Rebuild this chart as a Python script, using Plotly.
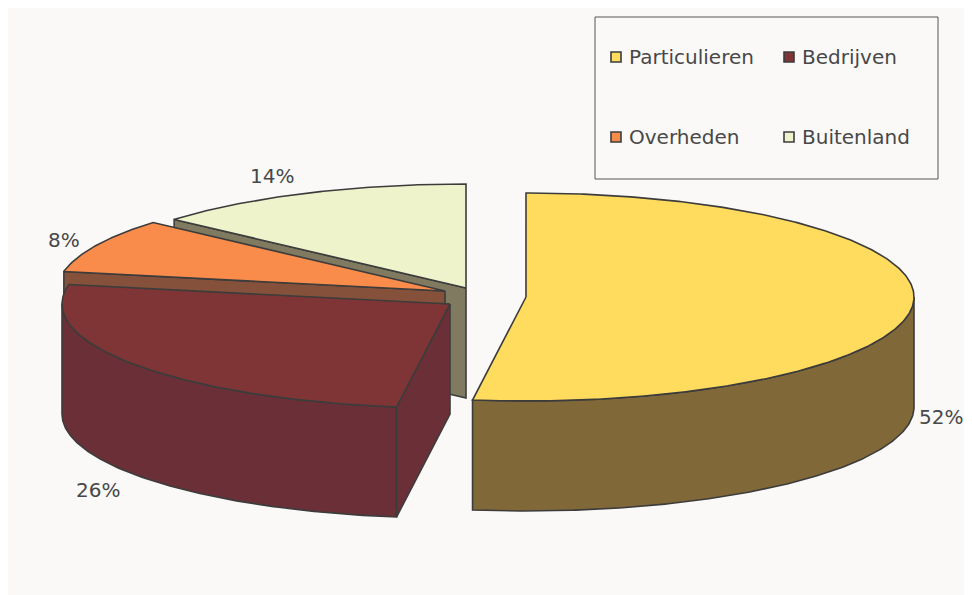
import numpy as np
import plotly.graph_objects as go

categories = ["Particulieren", "Bedrijven", "Overheden", "Buitenland"]
shares = [52.2, 25.8, 8.45, 13.55]
pct_labels = ["52%", "26%", "8%", "14%"]
top_colors = ["#FFDB5E", "#7F3535", "#F98B4B", "#EEF3CC"]
wall_colors = ["#806839", "#6B3037", "#85513A", "#7F7A60"]

LINE = "#3C3C3C"
FONT = dict(family="DejaVu Sans, Verdana, sans-serif", color="#484848", size=20)
RX, RY, DEPTH = 388, 104, 110
# pie centres after the explode offset, in window pixels
centers = [(526, 297), (450, 304), (445, 291), (466, 288)]
label_pos = [(941, 417), (98, 490), (64, 240), (272, 176)]
legend_pos = [(616, 57), (789, 57), (616, 137), (789, 137)]

edges = np.cumsum([0] + shares) / 100 * 360


def arc(c, a0, a1):
    t = np.radians(np.linspace(a0, a1, max(int(abs(a1 - a0)) * 2, 2)))
    return c[0] + RX * np.sin(t), c[1] - RY * np.cos(t)


def poly(fig, x, y, color):
    x = np.r_[x, x[0]]
    y = np.r_[y, y[0]]
    fig.add_trace(go.Scatter(x=x, y=y, mode="lines", fill="toself", fillcolor=color,
                             line=dict(color=LINE, width=1.6), hoverinfo="skip",
                             showlegend=False))


fig = go.Figure()

# back-to-front painting order
for i in [3, 2, 1, 0]:
    c = centers[i]
    a0, a1 = edges[i], edges[i + 1]
    # outer rim, only the front half is visible
    lo, hi = max(a0, 90), min(a1, 270)
    if lo < hi:
        x, y = arc(c, lo, hi)
        poly(fig, np.r_[x, x[::-1]], np.r_[y, y[::-1] + DEPTH], wall_colors[i])
    # cut face on the slice's starting edge
    if i > 0:
        sx, sy = arc(c, a0, a0 + 1)
        poly(fig, np.array([c[0], sx[0], sx[0], c[0]]),
             np.array([c[1], sy[0], sy[0] + DEPTH, c[1] + DEPTH]), wall_colors[i])
    # top face
    x, y = arc(c, a0, a1)
    poly(fig, np.r_[c[0], x], np.r_[c[1], y], top_colors[i])

for i, name in enumerate(categories):
    px, py = label_pos[i]
    fig.add_annotation(x=px, y=py, text=pct_labels[i], showarrow=False, font=FONT,
                       xanchor="center", yanchor="middle")
    lx, ly = legend_pos[i]
    fig.add_trace(go.Scatter(x=[lx], y=[ly], mode="markers", showlegend=False, hoverinfo="skip",
                             marker=dict(symbol="square", size=10, color=top_colors[i],
                                         line=dict(color=LINE, width=1.6))))
    fig.add_annotation(x=lx + 11, y=ly, text=name, showarrow=False, font=FONT,
                       xanchor="left", yanchor="middle")

# the page body margin shifts the figure by 8 px, so the axes start at 8
fig.update_layout(
    width=972, height=595, margin=dict(l=0, r=0, t=0, b=0, autoexpand=False),
    paper_bgcolor="#FAF9F7", plot_bgcolor="#FAF9F7", showlegend=False,
    xaxis=dict(range=[8, 980], visible=False, fixedrange=True),
    yaxis=dict(range=[603, 8], visible=False, fixedrange=True),
    shapes=[
        dict(type="rect", x0=595, y0=17, x1=938, y1=179, layer="below",
             fillcolor="rgba(0,0,0,0)", line=dict(color="#555555", width=1)),
    ],
)
fig.write_html("out.html", config={"displayModeBar": False})
